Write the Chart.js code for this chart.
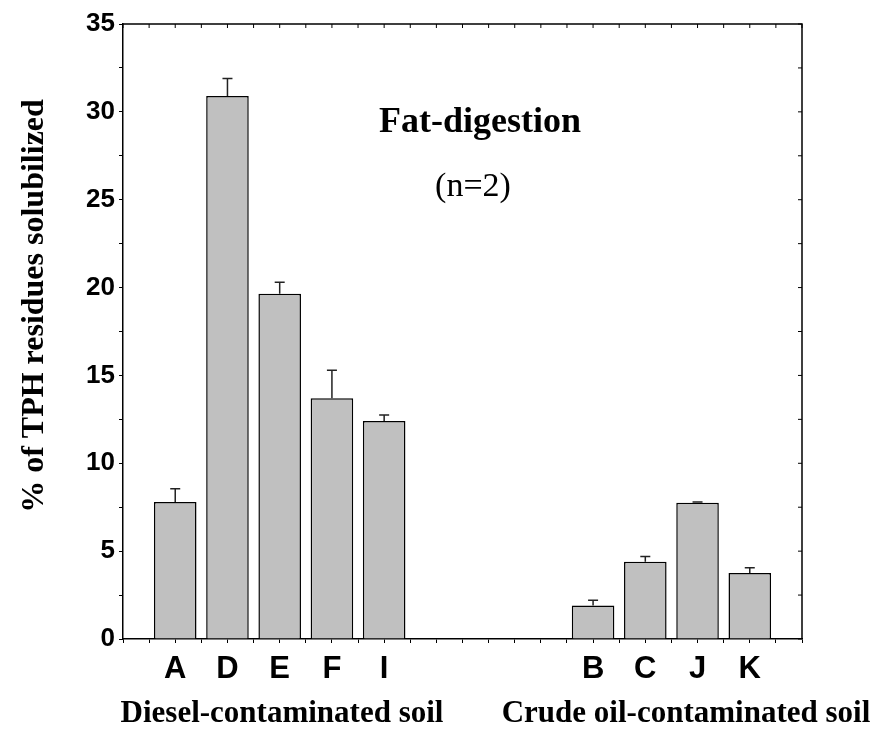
<!DOCTYPE html>
<html>
<head>
<meta charset="utf-8">
<script src="https://cdn.jsdelivr.net/npm/chart.js@4"></script>
<style>
  body { margin: 0; background: #fff; }
  canvas { display: block; }
</style>
</head>
<body>
<canvas id="myChart" width="881" height="733"></canvas>
<script>
// values
var categories = ['A', 'D', 'E', 'F', 'I', 'B', 'C', 'J', 'K']
var tph = [7.8, 30.9, 19.65, 13.7, 12.4, 1.9, 4.4, 7.75, 3.75]
var errUp = [0.75, 1.0, 0.65, 1.6, 0.35, 0.3, 0.3, 0.05, 0.3]
var yTicks = [0, 5, 10, 15, 20, 25, 30, 35]
var groups = ['Diesel-contaminated soil', 'Crude oil-contaminated soil']
var dieselCount = 5

// slot on the x axis: one empty slot on each side, three between the groups
function slot(i) {
  return i < dieselCount ? i + 1 : i + 4
}

var points = tph.map(function (v, i) { return { x: slot(i), y: v } })

var errorBars = {
  id: 'errorBars',
  afterDatasetsDraw: function (chart) {
    var ctx = chart.ctx
    var ys = chart.scales.y
    var meta = chart.getDatasetMeta(0)
    ctx.save()
    ctx.strokeStyle = '#222'
    ctx.lineWidth = 1.5
    meta.data.forEach(function (bar, i) {
      var top = ys.getPixelForValue(tph[i] + errUp[i])
      ctx.beginPath()
      ctx.moveTo(bar.x, bar.y)
      ctx.lineTo(bar.x, top)
      ctx.moveTo(bar.x - 5, top)
      ctx.lineTo(bar.x + 5, top)
      ctx.stroke()
    })
    ctx.restore()
  }
}

var frame = {
  id: 'frame',
  afterDraw: function (chart) {
    var ctx = chart.ctx
    var a = chart.chartArea
    var xs = chart.scales.x
    var ys = chart.scales.y
    ctx.save()
    ctx.strokeStyle = '#000'
    ctx.lineWidth = 1.5
    ctx.beginPath()
    ctx.moveTo(a.left, a.top)
    ctx.lineTo(a.right, a.top)
    ctx.lineTo(a.right, a.bottom)
    ctx.stroke()
    ctx.lineWidth = 1
    ctx.beginPath()
    xs.ticks.forEach(function (t) {
      var px = xs.getPixelForValue(t.value)
      ctx.moveTo(px, a.top)
      ctx.lineTo(px, a.top + 4)
    })
    ys.ticks.forEach(function (t) {
      var py = ys.getPixelForValue(t.value)
      ctx.moveTo(a.right, py)
      ctx.lineTo(a.right - 4, py)
    })
    ctx.stroke()

    // texts
    ctx.fillStyle = '#000'
    ctx.textAlign = 'center'
    ctx.textBaseline = 'alphabetic'
    ctx.font = 'bold 36px "Liberation Serif"'
    ctx.fillText('Fat-digestion', 480, 132)
    ctx.font = '34px "Liberation Serif"'
    ctx.fillText('(n=2)', 473, 196)

    ctx.font = 'bold 31px "Liberation Serif"'
    ctx.fillText(groups[0], 282, 722)
    ctx.fillText(groups[1], 686, 722)

    ctx.save()
    ctx.translate(43, 306)
    ctx.rotate(-Math.PI / 2)
    ctx.font = 'bold 32px "Liberation Serif"'
    ctx.fillText('% of TPH residues solubilized', 0, 0)
    ctx.restore()
    ctx.restore()
  }
}

var myChart = document.getElementById('myChart').getContext('2d')

var chart = new Chart(myChart, {
  type: 'bar',
  data: {
    datasets: [
      {
        data: points,
        backgroundColor: '#c0c0c0',
        borderColor: '#000',
        borderWidth: 1.5,
        // the ruler uses the half-step ticks, so one slot is two tick gaps
        categoryPercentage: 1,
        barPercentage: 1.63
      }
    ]
  },
  options: {
    responsive: false,
    animation: false,
    devicePixelRatio: 1,
    layout: { padding: { top: 24, right: 79, bottom: 0, left: 0 } },
    plugins: {
      legend: { display: false },
      tooltip: { enabled: false }
    },
    scales: {
      x: {
        type: 'linear',
        min: 0,
        max: slot(categories.length - 1) + 1,
        offset: false,
        afterFit: function (s) { s.height = 94 },
        grid: {
          offset: false,
          drawOnChartArea: false,
          drawTicks: true,
          tickLength: 4,
          color: '#000'
        },
        border: { display: true, color: '#000', width: 1.5 },
        ticks: {
          stepSize: 0.5,
          autoSkip: false,
          maxRotation: 0,
          padding: 8,
          color: '#000',
          font: { family: 'Liberation Sans', weight: 'bold', size: 31 },
          callback: function (v) {
            for (var i = 0; i < categories.length; i++) {
              if (slot(i) === v) return categories[i]
            }
            return ''
          }
        }
      },
      y: {
        min: yTicks[0],
        max: yTicks[yTicks.length - 1],
        afterFit: function (s) { s.width = 123 },
        grid: {
          drawOnChartArea: false,
          drawTicks: true,
          tickLength: 4,
          color: '#000'
        },
        border: { display: true, color: '#000', width: 1.5 },
        ticks: {
          stepSize: 2.5,
          padding: 4,
          color: '#000',
          font: { family: 'Liberation Sans', weight: 'bold', size: 26 },
          callback: function (v) {
            return yTicks.indexOf(v) >= 0 ? v : ''
          }
        }
      }
    }
  },
  plugins: [errorBars, frame]
})
</script>
</body>
</html>
